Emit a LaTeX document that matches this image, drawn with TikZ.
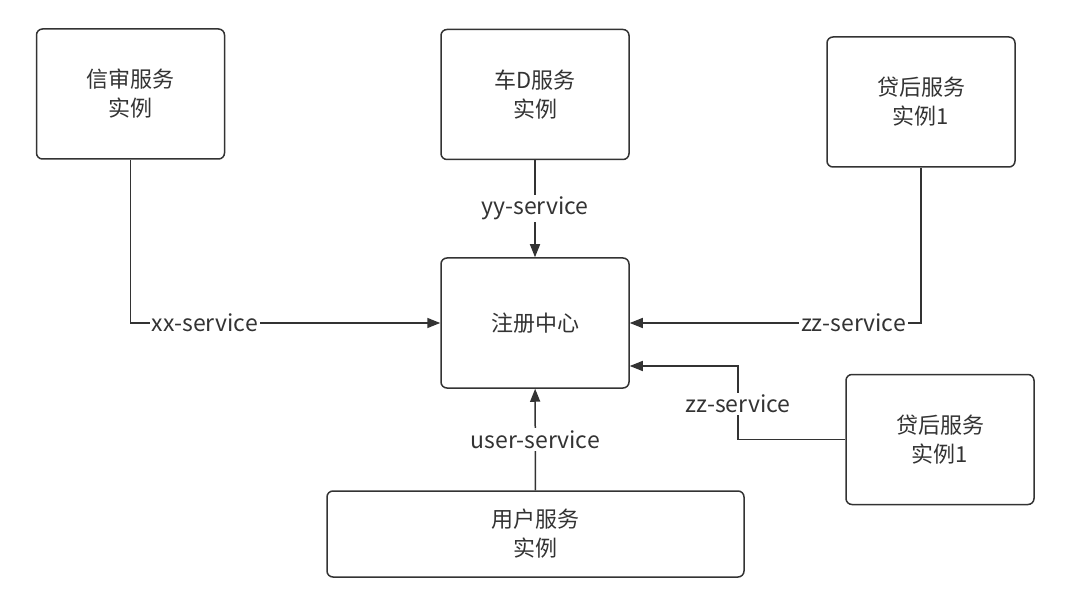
\documentclass[tikz,border=0pt]{standalone}
\usepackage{fontspec}
\setmainfont{Noto Sans CJK SC}
\usepackage{xcolor}
\usepackage{tikz}
\usetikzlibrary{arrows.meta,positioning}
\definecolor{inkgray}{HTML}{333333}
\tikzset{
  svcbox/.style={draw=inkgray,rounded corners=6pt,line width=1.5pt,fill=white,text=inkgray,font=\fontsize{22}{29}\selectfont,align=center,minimum width=188pt,minimum height=130pt,inner sep=0pt},
  regarrow/.style={-{Triangle[length=13pt,width=10pt]},draw=inkgray,line width=1.5pt},
  svclabel/.style={fill=white,text=inkgray,font=\fontsize{23}{27}\selectfont,inner sep=2pt},
}

\begin{document}
\begin{tikzpicture}[x=1pt,y=-1pt]
    \useasboundingbox (0,0) rectangle (1082,596);
    \node[svcbox] (reg) at (535,323) {注册中心};
    \node[svcbox] (xs) at (130.5,94) {信审服务\\实例};
    \node[svcbox] (cd) at (535,94.5) {车D服务\\实例};
    \node[svcbox] (dh1) at (921,102) {贷后服务\\实例1};
    \node[svcbox] (dh2) at (940,439.5) {贷后服务\\实例1};
    \node[svcbox,minimum width=417pt,minimum height=86pt] (yh) at (535.5,534) {用户服务\\实例};
    \coordinate (bend) at (738,439.5);
    \draw[regarrow] (xs.south) |- node[svclabel,pos=0.62] {xx-service} (reg.west);
    \draw[regarrow] (cd) -- node[svclabel] {yy-service} (reg);
    \draw[regarrow] (dh1.south) |- node[svclabel,pos=0.616] {zz-service} (reg.east);
    \draw[regarrow] (dh2.west) -- (bend) |- node[svclabel,pos=0.24] {zz-service} ([yshift=-43pt]reg.east);
    \draw[regarrow] (yh) -- node[svclabel] {user-service} (reg);
  \end{tikzpicture}
\end{document}
